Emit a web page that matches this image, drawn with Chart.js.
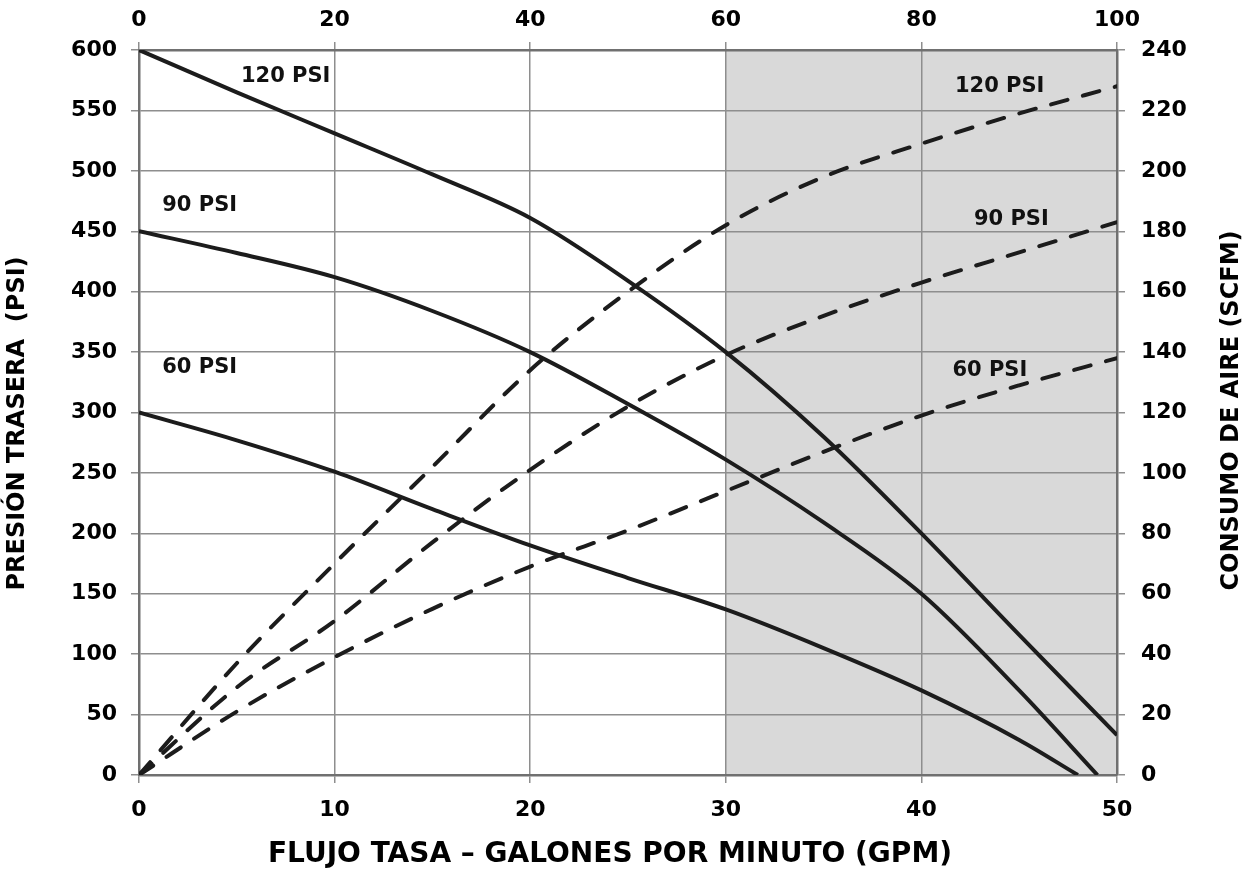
<!DOCTYPE html>
<html>
<head>
    <title>Presión trasera y consumo de aire</title>
    <script src="https://cdn.jsdelivr.net/npm/chart.js"></script>
    <style>
        body { margin: 0; background: #fff; }
    </style>
</head>
<body>

<canvas id="pumpChart" width="1255" height="870"></canvas>

<script>
    // flow in GPM for each curve
    const flow120 = [0, 5, 10, 15, 20, 25, 30, 35, 40, 45, 50];
    const flow90 = [0, 5, 10, 15, 20, 25, 30, 35, 40, 45, 49];
    const flow60 = [0, 5, 10, 15, 20, 25, 30, 35, 40, 45, 48];
    const flowAir = [0, 5, 10, 15, 20, 25, 30, 35, 40, 45, 50];

    // back pressure (PSI), left axis
    const back120 = [600, 565, 531, 497, 461, 409, 350, 280, 200, 116, 33];
    const back90 = [450, 432, 412, 384, 350, 307, 261, 209, 150, 70, 0];
    const back60 = [300, 277, 251, 220, 190, 163, 137, 105, 70, 29, 0];

    // air consumption (SCFM), right axis
    const air120 = [0, 37, 70, 102, 134, 160, 182, 198, 209, 219, 228];
    const air90 = [0, 29, 51, 77, 101, 122, 139, 152, 163, 173, 183];
    const air60 = [0, 21, 39, 55, 69, 81, 94, 107, 119, 129, 138];

    // curve labels: [text, gpm, value, axis]
    const curveLabels = [
        ['120 PSI', 7.5, 578, 'y'],
        ['90 PSI', 3.1, 471, 'y'],
        ['60 PSI', 3.1, 337, 'y'],
        ['120 PSI', 44.0, 228, 'y2'],
        ['90 PSI', 44.6, 184, 'y2'],
        ['60 PSI', 43.5, 134, 'y2']
    ];

    const xTitle = 'FLUJO TASA – GALONES POR MINUTO (GPM)';
    const yTitle = 'PRESIÓN TRASERA  (PSI)';
    const y2Title = 'CONSUMO DE AIRE (SCFM)';

    const FONT = 'DejaVu Sans';
    const INK = '#1c1c1c';
    const GRID = '#8e8e8e';
    const FRAME = '#707070';

    function points(xs, ys) {
        return xs.map((x, i) => ({x: x, y: ys[i]}));
    }

    function curve(label, xs, ys, axis, dashed) {
        return {
            label: label,
            data: points(xs, ys),
            yAxisID: axis,
            showLine: true,
            borderColor: INK,
            borderWidth: 4,
            borderDash: dashed ? [17, 16] : [],
            borderCapStyle: dashed ? 'round' : 'butt',
            pointRadius: 0,
            cubicInterpolationMode: 'monotone',
            fill: false
        };
    }

    // grey band from 30 to 50 GPM, under the grid
    const shadePlugin = {
        id: 'shade',
        beforeDraw(chart) {
            const {ctx, chartArea, scales} = chart;
            const x0 = scales.x.getPixelForValue(30);
            const x1 = scales.x.getPixelForValue(50);
            ctx.save();
            ctx.fillStyle = '#d9d9d9';
            ctx.fillRect(x0, chartArea.top, x1 - x0, chartArea.bottom - chartArea.top);
            ctx.restore();
        }
    };

    const labelPlugin = {
        id: 'curveLabels',
        afterDatasetsDraw(chart) {
            const {ctx, scales} = chart;
            ctx.save();
            ctx.font = 'bold 21px "' + FONT + '"';
            ctx.fillStyle = '#111';
            ctx.textAlign = 'center';
            ctx.textBaseline = 'middle';
            curveLabels.forEach(([text, gpm, val, axis]) => {
                ctx.fillText(text, scales.x.getPixelForValue(gpm), scales[axis].getPixelForValue(val));
            });
            ctx.restore();
        }
    };

    // axis titles drawn by hand: both side titles read bottom to top
    const titlePlugin = {
        id: 'axisTitles',
        afterDraw(chart) {
            const {ctx, chartArea} = chart;
            const midY = (chartArea.top + chartArea.bottom) / 2;
            ctx.save();
            ctx.fillStyle = '#000';
            ctx.textAlign = 'center';
            ctx.textBaseline = 'middle';

            ctx.font = 'bold 28px "' + FONT + '"';
            ctx.fillText(xTitle, chartArea.left + 471, 855);

            ctx.font = 'bold 24px "' + FONT + '"';
            [[18, midY + 11, yTitle], [1232, midY - 2, y2Title]].forEach(([x, y, text]) => {
                ctx.save();
                ctx.translate(x, y);
                ctx.rotate(-Math.PI / 2);
                ctx.fillText(text, 0, 0);
                ctx.restore();
            });
            ctx.restore();
        }
    };

    const tickFont = {family: FONT, weight: 'bold', size: 22};

    new Chart(document.getElementById('pumpChart'), {
        type: 'scatter',
        data: {
            datasets: [
                curve('120 PSI', flow120, back120, 'y', false),
                curve('90 PSI', flow90, back90, 'y', false),
                curve('60 PSI', flow60, back60, 'y', false),
                curve('120 PSI aire', flowAir, air120, 'y2', true),
                curve('90 PSI aire', flowAir, air90, 'y2', true),
                curve('60 PSI aire', flowAir, air60, 'y2', true)
            ]
        },
        options: {
            responsive: false,
            animation: false,
            layout: {padding: 0},
            plugins: {
                legend: {display: false},
                tooltip: {enabled: false}
            },
            scales: {
                x: {
                    type: 'linear',
                    position: 'bottom',
                    min: 0,
                    max: 50,
                    ticks: {stepSize: 10, color: '#000', font: tickFont, padding: 14, maxRotation: 0},
                    grid: {color: GRID, lineWidth: 1.5, tickLength: 8},
                    border: {color: FRAME, width: 2.5},
                    afterFit: scale => { scale.height = 95; }
                },
                x2: {
                    type: 'linear',
                    position: 'top',
                    min: 0,
                    max: 100,
                    ticks: {stepSize: 20, color: '#000', font: tickFont, padding: 9, maxRotation: 0},
                    grid: {drawOnChartArea: false, color: GRID, lineWidth: 1.5, tickLength: 8},
                    border: {color: FRAME, width: 2.5},
                    afterFit: scale => { scale.height = 50; }
                },
                y: {
                    type: 'linear',
                    position: 'left',
                    min: 0,
                    max: 600,
                    ticks: {stepSize: 50, color: '#000', font: tickFont, padding: 14},
                    grid: {color: GRID, lineWidth: 1.5, tickLength: 8},
                    border: {color: FRAME, width: 2.5},
                    afterFit: scale => { scale.width = 139; }
                },
                y2: {
                    type: 'linear',
                    position: 'right',
                    min: 0,
                    max: 240,
                    ticks: {stepSize: 20, color: '#000', font: tickFont, padding: 16},
                    grid: {drawOnChartArea: false, color: GRID, lineWidth: 1.5, tickLength: 8},
                    border: {color: FRAME, width: 2.5},
                    afterFit: scale => { scale.width = 138; }
                }
            }
        },
        plugins: [shadePlugin, labelPlugin, titlePlugin]
    });
</script>
</body>
</html>
